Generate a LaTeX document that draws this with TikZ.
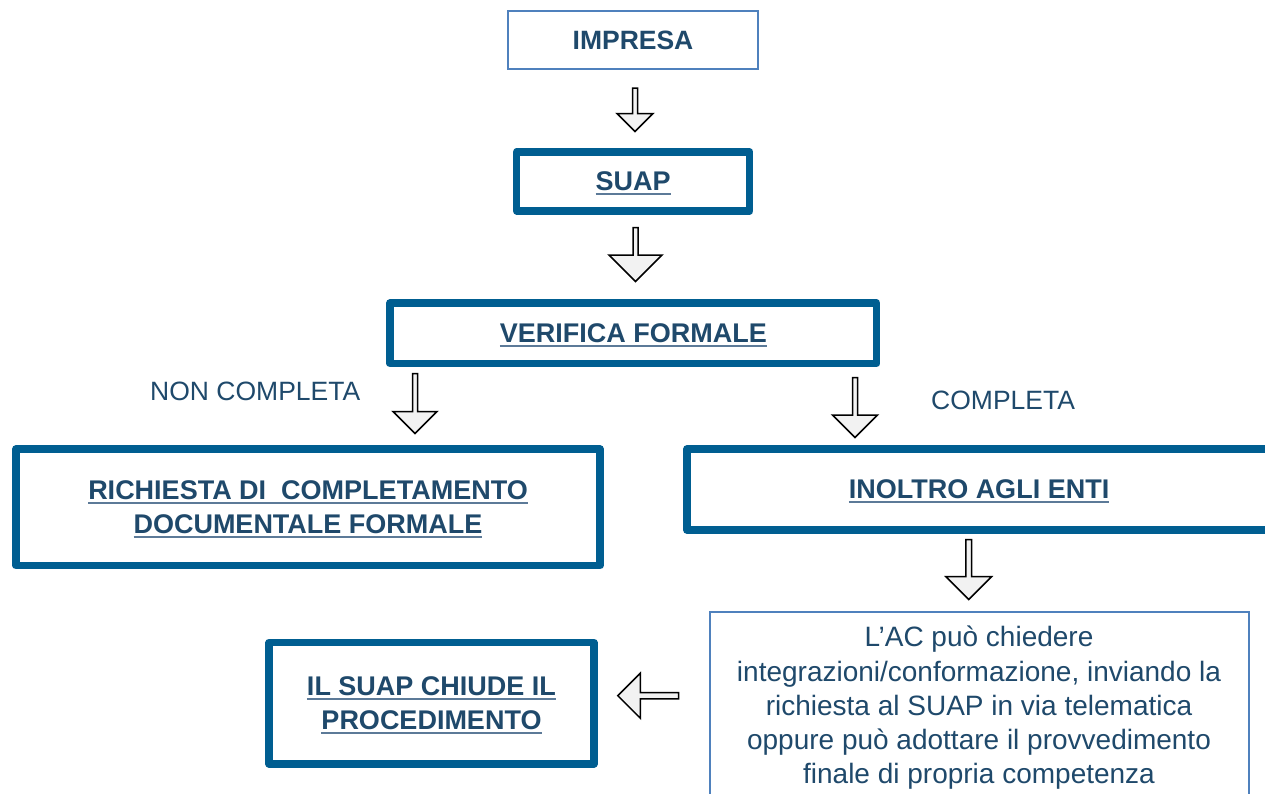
\documentclass[tikz,border=0pt]{standalone}
\usepackage{fontspec}
\setmainfont{Liberation Sans}
\usetikzlibrary{calc}
\definecolor{textc}{RGB}{31,73,107}
\definecolor{ulc}{RGB}{92,122,152}
\definecolor{borderc}{RGB}{0,94,145}
\definecolor{thinc}{RGB}{79,129,189}
\definecolor{arrfill}{RGB}{242,242,242}
\newcommand\myuline[1]{\setbox0\hbox{#1}\rlap{\smash{\textcolor{ulc}{\rule[-4pt]{\wd0}{2pt}}}}\box0}
% block arrow pointing down: tail, tip, shaft half width, head half width
\newcommand\blockdown[4]{%
  \draw[barrow] ($(#1)+(-#3,0)$) -- ($(#2)+(-#3,-#4)$) -- ($(#2)+(-#4,-#4)$) -- (#2)
    -- ($(#2)+(#4,-#4)$) -- ($(#2)+(#3,-#4)$) -- ($(#1)+(#3,0)$) -- cycle;}
% block arrow pointing left
\newcommand\blockleft[4]{%
  \draw[barrow] ($(#1)+(0,-#3)$) -- ($(#2)+(#4,-#3)$) -- ($(#2)+(#4,-#4)$) -- (#2)
    -- ($(#2)+(#4,#4)$) -- ($(#2)+(#4,#3)$) -- ($(#1)+(0,#3)$) -- cycle;}
\tikzset{
  thickbox/.style={draw=borderc, line width=7.5pt, line join=round, fill=white,
    text=textc, font=\bfseries\fontsize{27}{34}\selectfont, align=center, inner sep=0pt},
  thinbox/.style={draw=thinc, line width=2pt, fill=white, text=textc,
    align=center, inner sep=0pt},
  lbl/.style={text=textc, font=\fontsize{26.5}{32}\selectfont, inner sep=0pt},
  barrow/.style={draw=black, fill=arrfill, line width=1.5pt, line join=miter},
}
\begin{document}
\begin{tikzpicture}[x=1pt, y=-1pt]
\useasboundingbox (0,0) rectangle (1265,793);
\clip (0,0) rectangle (1265,793);
\fill[white] (0,0) rectangle (1265,793);

\node[thinbox, minimum width=250.5pt, minimum height=58pt,
  font=\bfseries\fontsize{26.5}{32.5}\selectfont] (impresa) at (633,40) {IMPRESA};
\node[thickbox, minimum width=233pt, minimum height=59pt] (suap) at (633.2,181.5) {\myuline{SUAP}};
\node[thickbox, minimum width=486.7pt, minimum height=60.3pt] (verifica) at (633.3,333.2) {\myuline{VERIFICA FORMALE}};
\node[thickbox, minimum width=584pt, minimum height=116.5pt] (richiesta) at (308,507.3)
  {\myuline{RICHIESTA DI\ \ COMPLETAMENTO}\\\myuline{DOCUMENTALE FORMALE}};
\node[thickbox, minimum width=584pt, minimum height=81pt] (inoltro) at (979,489.5) {\myuline{INOLTRO AGLI ENTI}};
\node[thinbox, minimum width=539pt, minimum height=186pt,
  font=\fontsize{28}{34.2}\selectfont, text depth=0pt] (ac) at (979,705)
  {\raisebox{0pt}[0pt][0pt]{}L’AC può chiedere\\integrazioni/conformazione, inviando la\\richiesta al SUAP in via telematica\\oppure può adottare il provvedimento\\finale di propria competenza};
\node[thickbox, minimum width=324.6pt, minimum height=121.3pt] (chiude) at (431.5,703.2)
  {\myuline{IL SUAP CHIUDE IL}\\\myuline{PROCEDIMENTO}};

\node[lbl, anchor=west] (noncompl) at (150,391) {NON COMPLETA};
\node[lbl, anchor=west] (compl) at (931,400) {COMPLETA};

\coordinate (a1t) at (635,88);    \coordinate (a1h) at (635,131.5);
\coordinate (a2t) at (635.5,227.5); \coordinate (a2h) at (635.5,281.5);
\coordinate (a3t) at (415,373.5); \coordinate (a3h) at (415,433.5);
\coordinate (a4t) at (855,377.5); \coordinate (a4h) at (855,437.5);
\coordinate (a5t) at (968.7,539.5); \coordinate (a5h) at (968.7,599.5);
\coordinate (a6t) at (678.5,695.7); \coordinate (a6h) at (617.8,695.7);

\blockdown{a1t}{a1h}{2.5}{18}
\blockdown{a2t}{a2h}{2.5}{26.5}
\blockdown{a3t}{a3h}{2.5}{22}
\blockdown{a4t}{a4h}{2.5}{22.5}
\blockdown{a5t}{a5h}{2.8}{22.8}
\blockleft{a6t}{a6h}{3.2}{22.5}
\end{tikzpicture}
\end{document}
